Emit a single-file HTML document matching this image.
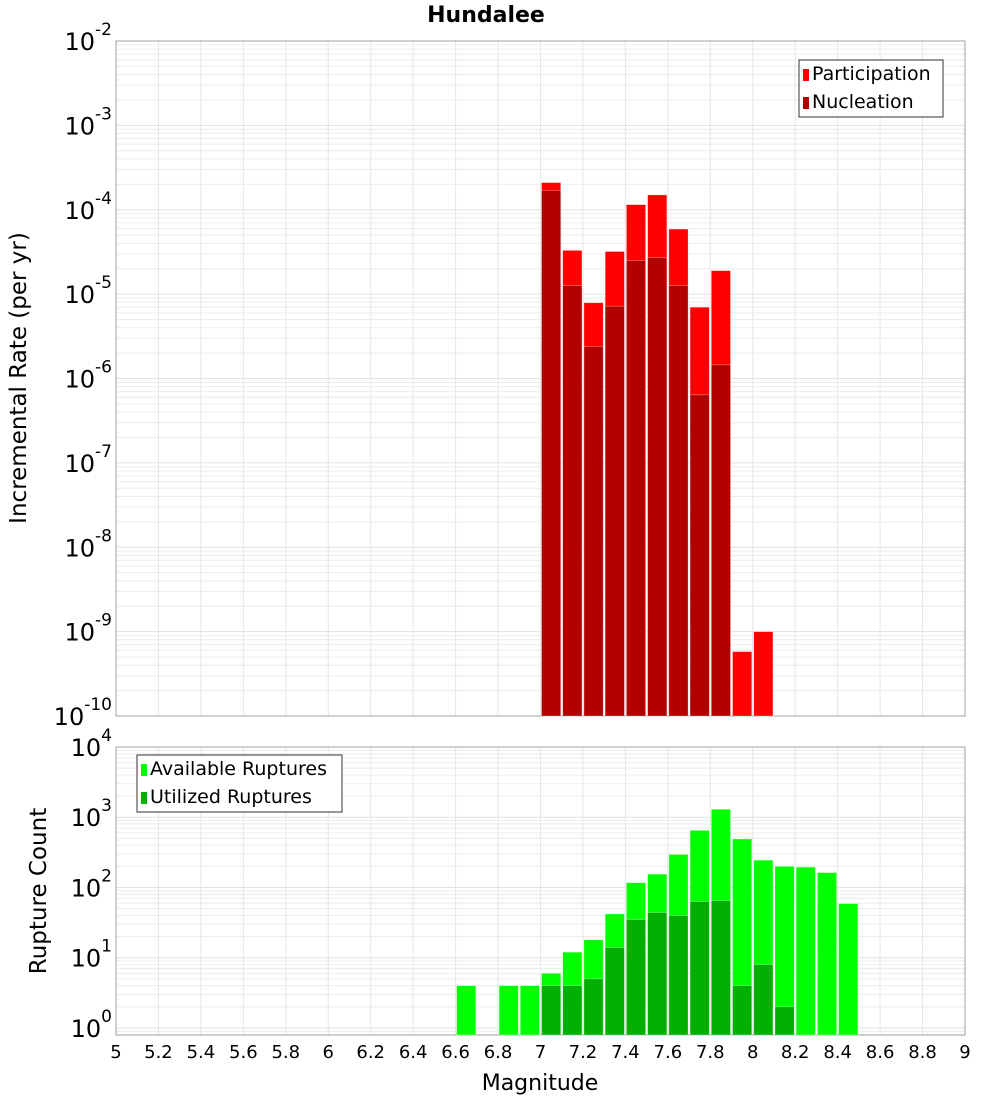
<!DOCTYPE html>
<html><head><meta charset="utf-8">
<style>
body{margin:0;background:#fff;}
svg text{font-family:"DejaVu Sans","Liberation Sans",sans-serif;}
</style></head>
<body>
<svg id="c" width="1000" height="1100" xmlns="http://www.w3.org/2000/svg">
<text x="486" y="22" text-anchor="middle" font-size="22" font-weight="bold">Hundalee</text>
</svg>
<script>
const bins=[7.0,7.1,7.2,7.3,7.4,7.5,7.6,7.7,7.8,7.9,8.0];
const participation=[2.1e-4,3.3e-5,7.9e-6,3.2e-5,1.15e-4,1.5e-4,5.9e-5,7e-6,1.9e-5,5.8e-10,1.0e-9];
const nucleation=[1.7e-4,1.26e-5,2.4e-6,7.2e-6,2.5e-5,2.7e-5,1.26e-5,6.4e-7,1.45e-6,0,0];
const countBins=[6.6,6.7,6.8,6.9,7.0,7.1,7.2,7.3,7.4,7.5,7.6,7.7,7.8,7.9,8.0,8.1,8.2,8.3,8.4];
const available=[4,0,4,4,6,12,18,42,117,155,295,650,1300,490,245,200,195,163,59];
const utilized=[0,0,0,0,4,4,5,14,35,44,40,63,65,4,8,2,0,0,0];
const xTicks=[5,5.2,5.4,5.6,5.8,6,6.2,6.4,6.6,6.8,7,7.2,7.4,7.6,7.8,8,8.2,8.4,8.6,8.8,9];

const svg=document.getElementById('c');
const NS='http://www.w3.org/2000/svg';
function mk(tag,attrs,parent){const e=document.createElementNS(NS,tag);for(const k in attrs)e.setAttribute(k,attrs[k]);(parent||svg).appendChild(e);return e;}
const X0=116,X1=965;
const xs=m=>X0+(m-5)/4*(X1-X0);
const P1={top:41,bot:716,lmin:-10,lmax:-2};
const P2={top:747,bot:1035,lmin:-0.1,lmax:4};
function ys(P,v){return P.bot-(Math.log10(v)-P.lmin)/(P.lmax-P.lmin)*(P.bot-P.top);}

function panel(P,name){
  const g=mk('g',{});
  
  
  for(let d=Math.floor(P.lmin);d<P.lmax;d++){
    for(let k=1;k<10;k++){
      const v=k*Math.pow(10,d);const lv=Math.log10(v);
      if(lv<P.lmin||lv>P.lmax)continue;
      const y=ys(P,v);
      mk('line',{x1:X0,x2:X1,y1:y,y2:y,stroke:k==1?'#e0e0e0':'#ececec','stroke-width':1},g);
    }
  }
  for(let m=5;m<=9.001;m+=0.2){const x=xs(m);mk('line',{x1:x,x2:x,y1:P.top,y2:P.bot,stroke:'#e6e6e6','stroke-width':1},g);}
  const r=mk('rect',{x:X0,y:P.top,width:X1-X0,height:P.bot-P.top,fill:'none',stroke:'#a0a0a0','stroke-width':1});
  
  
  for(let d=Math.ceil(P.lmin);d<=P.lmax;d++){
    const y=ys(P,Math.pow(10,d));
    const t=mk('text',{x:112,y:y+9,'text-anchor':'end','font-size':24});
    
    
    t.textContent='10';
    const s=mk('tspan',{dy:-15,'font-size':17},t);s.textContent=String(d);
  }
}
panel(P1,'rate');panel(P2,'count');

function bars(P,cats,vals,color,name){
  cats.forEach((m,i)=>{const v=vals[i];if(!(v>0))return;
    const y=Math.max(P.top,ys(P,v));
    const r=mk('rect',{x:xs(m)+1,y:y,width:xs(m+0.1)-xs(m)-2,height:P.bot-y,fill:color,stroke:'#ffffff','stroke-opacity':0.5,'stroke-width':0.6});
    
    
  });
}
bars(P1,bins,participation,'#ff0000','participation');
bars(P1,bins,nucleation,'#b20000','nucleation');
bars(P2,countBins,available,'#00ff00','available');
bars(P2,countBins,utilized,'#00b000','utilized');

xTicks.forEach(m=>{const t=mk('text',{x:xs(m),y:1058,'text-anchor':'middle','font-size':18});
  
  
  t.textContent=String(m);});

function legend(x,y,w,items,name){
  const g=mk('g',{});
  
  
  mk('rect',{x:x,y:y,width:w,height:57,fill:'#fff',stroke:'#333','stroke-width':1},g);
  items.forEach((it,i)=>{
    mk('rect',{x:x+4,y:y+9+i*28,width:6,height:12,fill:it[1]},g);
    const t=mk('text',{x:x+13,y:y+20+i*28,'font-size':19},g);
    
    
    t.textContent=it[0];
  });
}
legend(799,60,144,[['Participation','#ff0000'],['Nucleation','#b20000']],'rate-legend');
legend(137,755,205,[['Available Ruptures','#00ff00'],['Utilized Ruptures','#00b000']],'count-legend');

let t=mk('text',{x:0,y:0,'text-anchor':'middle','font-size':23,transform:'translate(26,378) rotate(-90)'});


t.textContent='Incremental Rate (per yr)';
t=mk('text',{x:0,y:0,'text-anchor':'middle','font-size':23,transform:'translate(46,891) rotate(-90)'});


t.textContent='Rupture Count';
t=mk('text',{x:540,y:1090,'text-anchor':'middle','font-size':22});


t.textContent='Magnitude';
</script>
</body></html>
